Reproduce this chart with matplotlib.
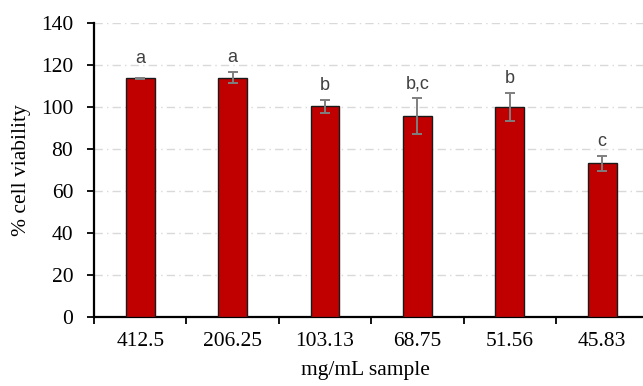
import numpy as np
import matplotlib.pyplot as plt

# data
concentrations = ['412.5', '206.25', '103.13', '68.75', '51.56', '45.83']
viability = [113.6, 114.0, 100.3, 95.9, 100.2, 73.2]
errors = [0.3, 2.8, 3.2, 8.6, 6.7, 3.6]
letters = ['a', 'a', 'b', 'b,c', 'b', 'c']

fig = plt.figure(figsize=(6.43, 3.86), dpi=100)
# the plot area runs past the right edge of the picture (cropped like the original)
cat_w = 92.4
ax = fig.add_axes([94/643, 1 - 317/386, 6*cat_w/643, (317-23)/386])

x = np.arange(len(concentrations))
ax.bar(x, viability, width=0.31, color='#C00000', edgecolor='#1a1a1a', linewidth=1.0, zorder=3)
ax.errorbar(x, viability, yerr=errors, fmt='none', ecolor='#7f7f7f', elinewidth=1.4,
            capsize=3.5, capthick=1.4, zorder=4)

for i in range(len(x)):
	ax.text(x[i], viability[i] + max(errors[i], 3) + 2.5, letters[i], ha='center', va='bottom',
	        fontsize=13, color='#404040', family='Liberation Sans')

ax.set_xlim(-0.5, len(x) - 0.5)
ax.set_ylim(0, 140)
ax.set_yticks(np.arange(0, 141, 20))
ax.yaxis.grid(True, color='#d9d9d9', linestyle=(0, (6, 3, 1, 3)), linewidth=1.0, zorder=0)
ax.set_axisbelow(True)

# category labels in the middle, tick marks on the boundaries
ax.set_xticks(x)
ax.set_xticklabels(concentrations)
ax.tick_params(axis='x', which='major', length=0, pad=11)
ax.set_xticks(np.arange(-0.5, len(x), 1), minor=True)
ax.tick_params(axis='x', which='minor', length=5, width=1.3, direction='out')
ax.tick_params(axis='y', length=5, width=1.3, direction='out', pad=10)

for lab in ax.get_xticklabels() + ax.get_yticklabels():
	lab.set_family('Liberation Serif')
	lab.set_fontsize(15.5)

ax.spines['top'].set_visible(False)
ax.spines['right'].set_visible(False)
ax.spines['left'].set_linewidth(1.6)
ax.spines['bottom'].set_linewidth(1.6)

ax.set_xlabel('mg/mL sample', family='Liberation Serif', fontsize=15.5, va='center')
ax.xaxis.set_label_coords((365 - 94) / (6*cat_w), (317 - 371) / 294)
ax.set_ylabel('% cell viability', family='Liberation Serif', fontsize=15.5, va='center')
ax.yaxis.set_label_coords((22 - 94) / (6*cat_w), 0.5)

fig.savefig('out.png', dpi=100)
